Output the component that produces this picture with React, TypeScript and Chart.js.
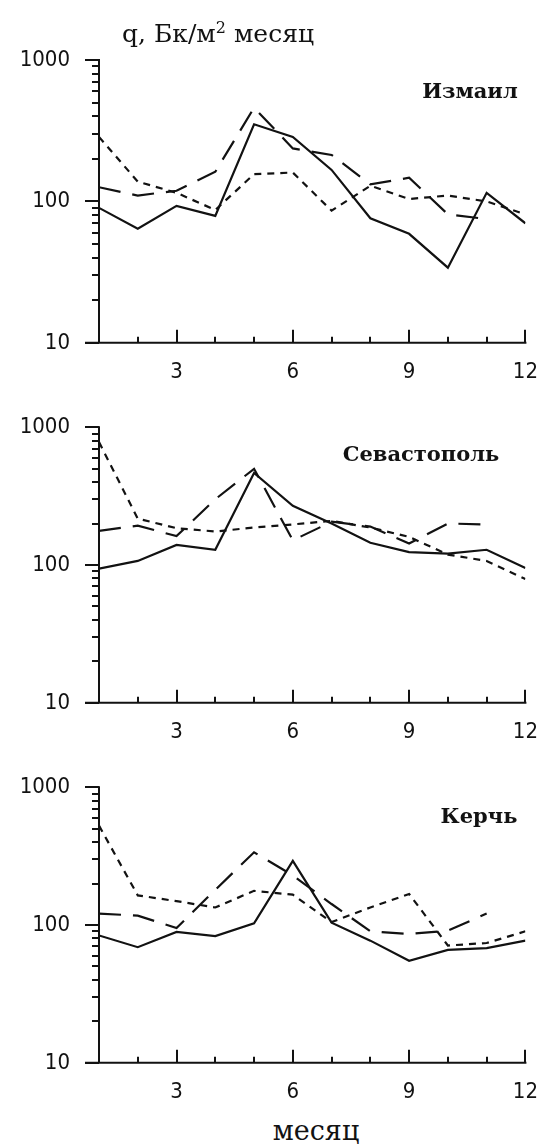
import React, { useEffect, useRef } from "react";
import { Chart, registerables } from "chart.js";

Chart.register(...registerables);

// ---------- data ----------
const months = [1, 2, 3, 4, 5, 6, 7, 8, 9, 10, 11, 12];
const xTickLabels = [3, 6, 9, 12];
const yTickLabels = [10, 100, 1000];
const stationNames = ["Измаил", "Севастополь", "Керчь"];

const izmailSolid = [90, 64, 93, 79, 351, 286, 167, 76, 59, 34, 115, 70];
const izmailLongDash = [126, 110, 119, 162, 460, 237, 213, 132, 147, 81, 75, null];
const izmailShortDash = [286, 138, 115, 87, 156, 160, 86, 129, 104, 110, 100, 81];

const sevastopolSolid = [94, 107, 140, 129, 465, 269, 200, 145, 124, 121, 129, 95];
const sevastopolLongDash = [177, 193, 162, 300, 499, 151, 206, 190, 143, 200, 197, null];
const sevastopolShortDash = [780, 217, 185, 175, 187, 197, 209, 187, 160, 119, 107, 79];

const kerchSolid = [84, 69, 89, 83, 103, 292, 104, 77, 55, 66, 68, 77];
const kerchLongDash = [121, 117, 95, 180, 337, 229, 142, 90, 86, 91, 121, null];
const kerchShortDash = [526, 164, 149, 134, 177, 166, 105, 134, 168, 71, 74, 90];

// ---------- layout / style ----------
const INK = "#121212";
const NUM_FONT = "'DejaVu Sans Condensed', 'DejaVu Sans', sans-serif";
const SERIF = "'DejaVu Serif', serif";

const panels = [
  { name: stationNames[0], series: [izmailSolid, izmailLongDash, izmailShortDash], canvasTop: 0, canvasH: 385, areaTop: 60, areaBottom: 346, labelX: 470, labelY: 93 },
  { name: stationNames[1], series: [sevastopolSolid, sevastopolLongDash, sevastopolShortDash], canvasTop: 385, canvasH: 360, areaTop: 35, areaBottom: 322, labelX: 421, labelY: 71 },
  { name: stationNames[2], series: [kerchSolid, kerchLongDash, kerchShortDash], canvasTop: 745, canvasH: 360, areaTop: 35, areaBottom: 322, labelX: 479, labelY: 73 },
];

const dashes = [[], [22, 12], [7, 6]];

const axesPlugin = {
  id: "customAxes",
  afterDatasetsDraw(chart: any, _args: any, opts: any) {
    const { ctx, chartArea, scales } = chart;
    const { left, right, top, bottom } = chartArea;
    const x = scales.x;
    const y = scales.y;
    ctx.save();
    ctx.strokeStyle = INK;
    ctx.lineWidth = 2;
    ctx.setLineDash([]);
    ctx.beginPath();
    ctx.moveTo(left, top - 1);
    ctx.lineTo(left, bottom);
    ctx.moveTo(left - 14, bottom);
    ctx.lineTo(right + 1, bottom);
    for (let dec = 10; dec < 1000; dec *= 10) {
      for (let m = 1; m < 10; m++) {
        const py = Math.round(y.getPixelForValue(m * dec));
        const len = m === 1 ? 14 : 7;
        ctx.moveTo(left - len, py);
        ctx.lineTo(left, py);
      }
    }
    const pTop = Math.round(y.getPixelForValue(1000));
    ctx.moveTo(left - 14, pTop);
    ctx.lineTo(left, pTop);
    months.forEach((mo) => {
      if (mo === 1) return;
      const px = Math.round(x.getPixelForValue(mo));
      const len = xTickLabels.includes(mo) ? 13 : 6;
      ctx.moveTo(px, bottom);
      ctx.lineTo(px, bottom - len);
    });
    ctx.stroke();

    ctx.fillStyle = INK;
    ctx.font = `bold 21px ${SERIF}`;
    ctx.textAlign = "center";
    ctx.textBaseline = "middle";
    ctx.fillText(opts.text, opts.x, opts.y);
    ctx.restore();
  },
};

function Panel({ cfg }: { cfg: (typeof panels)[number] }) {
  const ref = useRef<HTMLCanvasElement | null>(null);
  useEffect(() => {
    if (!ref.current) return;
    const chart = new Chart(ref.current, {
      type: "line",
      data: {
        datasets: cfg.series.map((vals, i) => ({
          data: months.map((m, j) => ({ x: m, y: vals[j] })),
          borderColor: INK,
          borderWidth: 2.2,
          borderDash: dashes[i],
          pointRadius: 0,
          tension: 0,
          fill: false,
          spanGaps: false,
        })),
      },
      options: {
        animation: false,
        responsive: false,
        maintainAspectRatio: false,
        layout: { padding: { top: cfg.areaTop, right: 554 - 536, left: 0, bottom: 0 } },
        plugins: {
          legend: { display: false },
          tooltip: { enabled: false },
          customAxes: { text: cfg.name, x: cfg.labelX, y: cfg.labelY },
        } as any,
        scales: {
          x: {
            type: "linear",
            min: 1,
            max: 12,
            grid: { display: false, drawTicks: false },
            border: { display: false },
            afterBuildTicks: (s: any) => {
              s.ticks = xTickLabels.map((v) => ({ value: v }));
            },
            afterFit: (s: any) => {
              s.height = cfg.canvasH - cfg.areaBottom;
            },
            ticks: {
              autoSkip: false,
              maxRotation: 0,
              padding: 16,
              color: INK,
              font: { family: NUM_FONT, size: 22 },
              callback: (v: any) => String(v),
            },
          },
          y: {
            type: "logarithmic",
            min: 10,
            max: 1000,
            grid: { display: false, drawTicks: false },
            border: { display: false },
            afterBuildTicks: (s: any) => {
              s.ticks = yTickLabels.map((v) => ({ value: v }));
            },
            afterFit: (s: any) => {
              s.width = 99;
            },
            ticks: {
              autoSkip: false,
              padding: 29,
              color: INK,
              font: { family: NUM_FONT, size: 22 },
              callback: (v: any) => String(v),
            },
          },
        },
      },
      plugins: [axesPlugin],
    });
    return () => chart.destroy();
  }, [cfg]);
  return (
    <canvas
      ref={ref}
      width={554}
      height={cfg.canvasH}
      style={{ position: "absolute", left: 0, top: cfg.canvasTop, width: 554, height: cfg.canvasH }}
    />
  );
}

export default function App() {
  return (
    <div style={{ position: "absolute", left: 0, top: 0, width: 554, height: 1146, background: "#fff", overflow: "hidden" }}>
      {panels.map((p) => (
        <Panel key={p.name} cfg={p} />
      ))}
      <div
        style={{
          position: "absolute",
          left: 122,
          top: 19,
          fontFamily: SERIF,
          fontSize: 25,
          lineHeight: "30px",
          color: INK,
          whiteSpace: "nowrap",
        }}
      >
        q, Бк/м<sup style={{ fontSize: 16, lineHeight: 0 }}>2</sup> месяц
      </div>
      <div
        style={{
          position: "absolute",
          left: 316,
          top: 1116,
          transform: "translateX(-50%)",
          fontFamily: SERIF,
          fontSize: 27,
          lineHeight: "30px",
          color: INK,
          whiteSpace: "nowrap",
        }}
      >
        месяц
      </div>
    </div>
  );
}
